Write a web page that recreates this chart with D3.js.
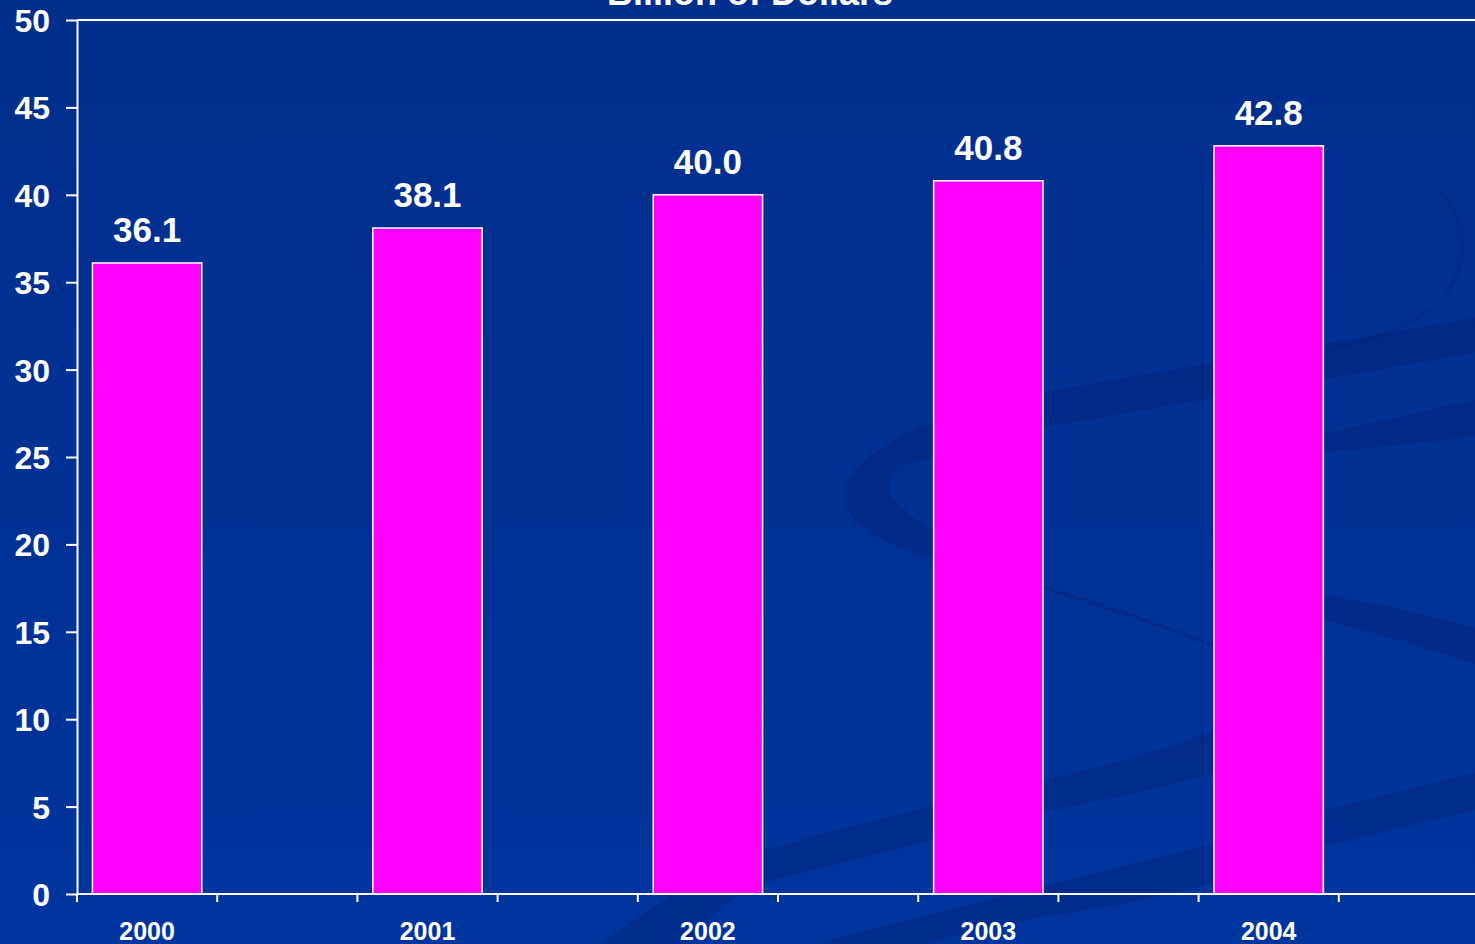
<!DOCTYPE html>
<html>
<head>
<meta charset="utf-8">
<script src="https://cdn.jsdelivr.net/npm/d3@7"></script>
<style>
  html, body { margin: 0; padding: 0; background: #003399; overflow: hidden; }
  svg { display: block; }
  text { font-family: "Liberation Sans", Arial, Helvetica, sans-serif; font-weight: bold; fill: #ffffff; }
</style>
</head>
<body>
<svg id="chart" width="1475" height="944"></svg>
<script>
// Annual totals, billion of dollars
const years = ["2000", "2001", "2002", "2003", "2004"];
const values = [36.1, 38.1, 40.0, 40.8, 42.8];
const yTicks = [0, 5, 10, 15, 20, 25, 30, 35, 40, 45, 50];
const titleText = "Billion of Dollars";

const W = 1475, H = 944;
const svg = d3.select("#chart");

// Slide background: soft vertical gradient
const defs = svg.append("defs");
const grad = defs.append("linearGradient").attr("id", "bg").attr("x1", 0).attr("y1", 0).attr("x2", 0).attr("y2", 1);
grad.append("stop").attr("offset", "0%").attr("stop-color", "#002e8c");
grad.append("stop").attr("offset", "100%").attr("stop-color", "#00359e");
svg.append("rect").attr("width", W).attr("height", H).attr("fill", "url(#bg)");

// Decorative swooshes of the slide template
const deco = svg.append("g").attr("fill", "rgba(0,28,105,0.30)").attr("stroke", "none");
// crescent that turns into the upper band and a thin tail
deco.append("path").attr("d",
  "M1475,318 C1380,334 1300,348 1213,363 C1140,375 1090,384 1045,392 C1000,400 960,410 933,422 " +
  "C870,446 838,478 846,505 C856,532 895,548 933,558 C980,572 1010,580 1045,590 C1110,610 1170,630 1215,648 " +
  "L1215,644 C1170,626 1110,606 1045,586 C1005,574 975,560 933,530 C900,512 885,494 890,478 " +
  "C898,460 915,466 933,457 C975,440 1010,433 1045,427 C1100,418 1160,407 1213,398 C1300,384 1390,368 1475,352 Z");
// thin arc at the upper right
deco.append("path").attr("fill", "none").attr("stroke", "rgba(0,28,105,0.18)").attr("stroke-width", 3)
  .attr("d", "M1438,190 C1470,220 1472,280 1430,310 C1395,335 1350,345 1300,355");
// right-hand band crossing behind the last bar
deco.append("path").attr("d",
  "M1250,450 C1300,440 1390,418 1475,400 L1475,436 C1400,446 1330,452 1250,458 Z");
// band sloping down on the far right
deco.append("path").attr("d",
  "M1250,585 C1330,592 1400,608 1475,628 L1475,664 C1400,640 1330,622 1250,600 Z");
// middle rising band
deco.append("path").attr("d",
  "M600,944 C660,900 710,868 763,850 C860,824 950,800 1040,780 C1110,765 1170,748 1213,730 C1260,712 1290,705 1320,700 " +
  "L1320,735 C1290,745 1250,760 1213,773 C1160,790 1100,800 1040,813 C950,835 860,858 763,883 C730,895 705,920 690,944 Z");
// lowest rising band
deco.append("path").attr("d",
  "M820,944 C860,930 900,922 933,914 C970,905 1000,897 1040,887 C1100,872 1160,858 1213,843 C1260,830 1290,820 1323,810 " +
  "C1380,796 1430,784 1475,773 L1475,810 C1430,820 1380,833 1323,847 C1290,857 1250,870 1213,883 C1150,900 1100,908 1040,917 " +
  "C1000,925 960,935 930,944 Z");

// Scales: every year owns two slots, the bar sits in the first one
const slots = years.flatMap(yr => [yr, yr + "-spare"]);
const x = d3.scaleBand().domain(slots).range([77, 1479]).paddingInner(0.22).paddingOuter(0.11);
const y = d3.scaleLinear().domain([0, 50]).range([894, 20]);
const step = x.step();
const slotStart = s => x(s) - x.paddingOuter() * step;

const lineColor = "#ffffff";

// Title
svg.append("text").attr("x", 750).attr("y", 5).attr("text-anchor", "middle")
  .attr("font-size", 36).text(titleText);

// Bars
const data = years.map((yr, i) => ({ year: yr, value: values[i] }));
svg.append("g").selectAll("rect").data(data).join("rect")
  .attr("x", d => x(d.year))
  .attr("y", d => y(d.value))
  .attr("width", x.bandwidth())
  .attr("height", d => y(0) - y(d.value))
  .attr("fill", "#ff00ff")
  .attr("stroke", "#ffffff")
  .attr("stroke-width", 1.5);

// Value labels
svg.append("g").selectAll("text").data(data).join("text")
  .attr("x", d => x(d.year) + x.bandwidth() / 2)
  .attr("y", d => y(d.value) - 21)
  .attr("text-anchor", "middle")
  .attr("font-size", 35)
  .text(d => d.value.toFixed(1));

// Top frame line
svg.append("line")
  .attr("x1", 77).attr("x2", 1479).attr("y1", y(50)).attr("y2", y(50))
  .attr("stroke", lineColor).attr("stroke-width", 2);

// Y axis
const yAxis = svg.append("g").attr("transform", "translate(77,0)")
  .call(d3.axisLeft(y).tickValues(yTicks).tickSize(11).tickSizeOuter(0).tickPadding(16));
yAxis.select(".domain").attr("stroke", lineColor).attr("stroke-width", 2);
yAxis.selectAll(".tick line").attr("stroke", lineColor).attr("stroke-width", 2);
yAxis.selectAll(".tick text")
  .attr("fill", "#ffffff").attr("font-size", 32).attr("dy", "0.36em")
  .style("font-family", "'Liberation Sans', Arial, sans-serif").style("font-weight", "bold");

// X axis line and slot-boundary ticks
svg.append("line")
  .attr("x1", 77).attr("x2", 1479).attr("y1", y(0)).attr("y2", y(0))
  .attr("stroke", lineColor).attr("stroke-width", 2);
const bounds = slots.map(slotStart).concat([slotStart(slots[slots.length - 1]) + step]);
svg.append("g").selectAll("line").data(bounds).join("line")
  .attr("x1", d => d).attr("x2", d => d)
  .attr("y1", y(0)).attr("y2", y(0) + 8)
  .attr("stroke", lineColor).attr("stroke-width", 2);

// Year labels centred under each bar
svg.append("g").selectAll("text").data(years).join("text")
  .attr("x", d => x(d) + x.bandwidth() / 2)
  .attr("y", 940)
  .attr("text-anchor", "middle")
  .attr("font-size", 25)
  .text(d => d);
</script>
</body>
</html>
